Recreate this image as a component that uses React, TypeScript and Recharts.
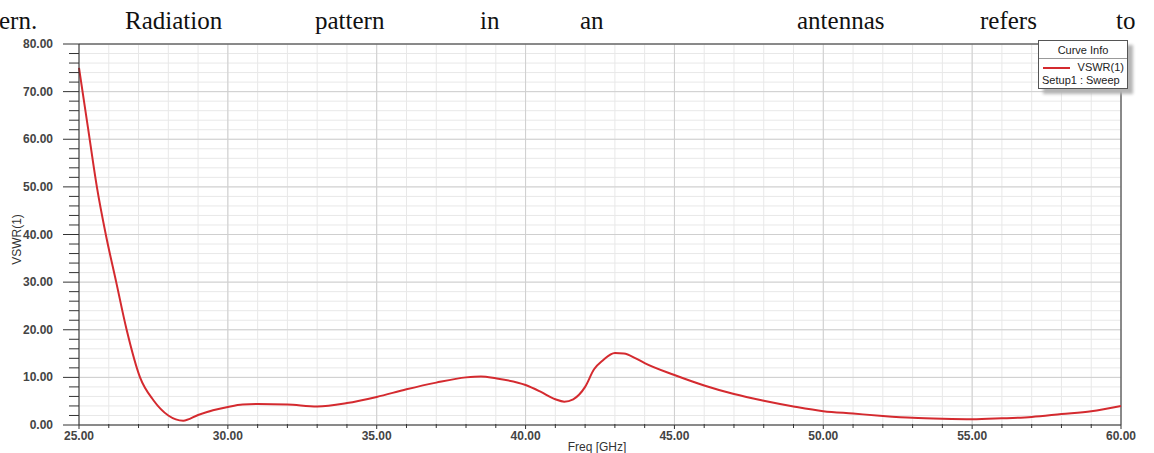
import React from "react";
import {
  LineChart,
  Line,
  XAxis,
  YAxis,
  CartesianGrid,
  ReferenceLine,
} from "recharts";

// VSWR(1) sweep
const freqGHz = [
  25, 25.3, 25.6, 25.9, 26.25, 26.6, 27.05, 27.5, 28, 28.5, 29, 29.5, 30,
  30.5, 31, 32, 33, 34, 35, 36, 37, 38, 38.5, 39, 40, 40.5, 41, 41.3, 41.6, 42,
  42.3, 42.6, 43, 43.3, 43.7, 44, 45, 46, 47, 48, 49, 50, 51, 52, 53, 54, 55,
  56, 57, 58, 59, 60,
];
const vswr = [
  75, 62.5, 50, 40, 30, 20, 10, 5.2, 2.0, 0.9, 2.1, 3.1, 3.8, 4.3, 4.4, 4.3,
  3.9, 4.6, 5.9, 7.5, 8.9, 10.0, 10.2, 9.8, 8.4, 7.0, 5.4, 4.9, 5.4, 8.0, 11.7,
  13.6, 15.1, 15.0, 14.0, 13.0, 10.5, 8.3, 6.5, 5.1, 3.9, 2.9, 2.4, 1.9, 1.5,
  1.3, 1.2, 1.4, 1.7, 2.3, 2.9, 4.0,
];

const xMajor = [25, 30, 35, 40, 45, 50, 55, 60];
const yMajor = [0, 10, 20, 30, 40, 50, 60, 70, 80];
const xMinor = Array.from({ length: 36 }, (_, i) => 25 + i);
const yMinor = Array.from({ length: 41 }, (_, i) => i * 2);

// line of body text that sits above the figure in the scanned page
const headerWords = [
  { text: "ern.", left: -1 },
  { text: "Radiation", left: 125 },
  { text: "pattern", left: 315 },
  { text: "in", left: 480 },
  { text: "an", left: 580 },
  { text: "antennas", left: 797 },
  { text: "refers", left: 980 },
  { text: "to", left: 1116 },
];

const data = freqGHz.map((f, i) => ({ freq: f, vswr: vswr[i] }));

const tickFont = "Liberation Sans, Arial, sans-serif";
const tickFill = "#444";

const XTick = (props: any) => {
  const { x, y, payload } = props;
  const major = xMajor.includes(payload.value);
  return (
    <g>
      <line x1={x} x2={x} y1={y - (major ? 0 : 1)} y2={y + (major ? 4 : 3)} stroke="#333" />
      {major && (
        <text
          x={x}
          y={y + 15}
          textAnchor="middle"
          fontFamily={tickFont}
          fontSize={12}
          fontWeight="bold"
          fill={tickFill}
        >
          {payload.value.toFixed(2)}
        </text>
      )}
    </g>
  );
};

const YTick = (props: any) => {
  const { x, y, payload } = props;
  const major = yMajor.includes(payload.value);
  return (
    <g>
      <line x1={x - (major ? 16 : 10)} x2={x} y1={y} y2={y} stroke="#333" />
      {major && (
        <text
          x={x - 26}
          y={y + 4}
          textAnchor="end"
          fontFamily={tickFont}
          fontSize={12}
          fontWeight="bold"
          fill={tickFill}
        >
          {payload.value.toFixed(2)}
        </text>
      )}
    </g>
  );
};

export default function App() {
  return (
    <div
      style={{
        position: "absolute",
        left: 0,
        top: 0,
        width: 1154,
        height: 453,
        background: "#fff",
        overflow: "hidden",
      }}
    >
      {headerWords.map((w) => (
        <span
          key={w.text}
          style={{
            position: "absolute",
            left: w.left,
            top: 7,
            fontFamily: "Liberation Serif, serif",
            fontSize: 25,
            lineHeight: "28px",
            color: "#111",
          }}
        >
          {w.text}
        </span>
      ))}

      <LineChart
        width={1154}
        height={453}
        data={data}
        margin={{ top: 44, right: 33, bottom: 0, left: 0 }}
        style={{ position: "absolute", left: 0, top: 0 }}
      >
        <CartesianGrid stroke="#e8e8e8" strokeWidth={1} />
        {xMajor.map((v) => (
          <ReferenceLine key={"vx" + v} x={v} stroke="#cfcfcf" />
        ))}
        {yMajor.map((v) => (
          <ReferenceLine key={"hy" + v} y={v} stroke="#cfcfcf" />
        ))}
        <ReferenceLine y={80} stroke="#333" />
        <ReferenceLine x={60} stroke="#333" />
        <XAxis
          dataKey="freq"
          type="number"
          domain={[25, 60]}
          ticks={xMinor}
          interval={0}
          height={28}
          tickSize={0}
          tickMargin={0}
          tickLine={false}
          axisLine={{ stroke: "#333" }}
          tick={<XTick />}
          label={{
            content: (p: any) => (
              <text
                x={p.viewBox.x + p.viewBox.width / 2 - 3}
                y={p.viewBox.y + 26}
                textAnchor="middle"
                fontFamily={tickFont}
                fontSize={12}
                fill="#333"
              >
                Freq [GHz]
              </text>
            ),
          }}
        />
        <YAxis
          type="number"
          domain={[0, 80]}
          ticks={yMinor}
          interval={0}
          width={79}
          tickSize={0}
          tickMargin={0}
          tickLine={false}
          axisLine={{ stroke: "#333" }}
          tick={<YTick />}
          label={{
            content: (p: any) => {
              const cx = p.viewBox.x + 17;
              const cy = p.viewBox.y + p.viewBox.height / 2 + 5;
              return (
                <text
                  x={cx}
                  y={cy}
                  transform={`rotate(-90 ${cx} ${cy})`}
                  textAnchor="middle"
                  dominantBaseline="central"
                  fontFamily={tickFont}
                  fontSize={12}
                  fill="#333"
                >
                  VSWR(1)
                </text>
              );
            },
          }}
        />
        <Line
          type="monotone"
          dataKey="vswr"
          stroke="#d42a2f"
          strokeWidth={2}
          dot={false}
          isAnimationActive={false}
        />
      </LineChart>

      <div
        style={{
          position: "absolute",
          left: 1038,
          top: 40,
          width: 88,
          height: 47,
          background: "#fff",
          border: "1px solid #555",
          boxShadow: "5px 5px 3px #b5b5b5",
          fontFamily: tickFont,
          fontSize: 11,
          color: "#222",
          lineHeight: "13px",
        }}
      >
        <div
          style={{
            textAlign: "center",
            borderBottom: "1px solid #999",
            height: 17,
            lineHeight: "18px",
          }}
        >
          Curve Info
        </div>
        <div
          style={{
            display: "flex",
            alignItems: "center",
            justifyContent: "space-between",
            padding: "2px 3px 0 4px",
          }}
        >
          <span
            style={{
              display: "inline-block",
              width: 27,
              height: 2,
              background: "#d42a2f",
            }}
          />
          <span>VSWR(1)</span>
        </div>
        <div style={{ paddingLeft: 3, whiteSpace: "nowrap" }}>Setup1 : Sweep</div>
      </div>
    </div>
  );
}
